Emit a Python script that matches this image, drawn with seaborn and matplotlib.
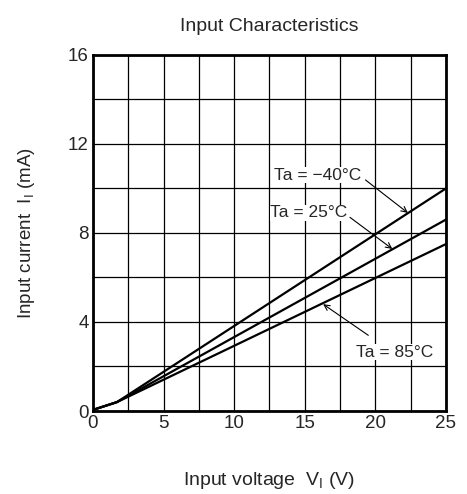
import pandas as pd
import matplotlib
matplotlib.use("Agg")
import matplotlib.pyplot as plt
import seaborn as sns

sns.set_style("white")
plt.rcParams['font.family'] = ['Liberation Sans', 'DejaVu Sans']
plt.rcParams['mathtext.fontset'] = 'custom'
plt.rcParams['mathtext.rm'] = 'Liberation Sans'

# data
voltage = [0, 1.7, 25]
current_m40 = [0.05, 0.4, 10.0]
current_25 = [0.05, 0.4, 8.6]
current_85 = [0.05, 0.4, 7.5]
temps = ['Ta = \u221240\u00b0C', 'Ta = 25\u00b0C', 'Ta = 85\u00b0C']

df = pd.DataFrame({
    'V': voltage * 3,
    'I': current_m40 + current_25 + current_85,
    'Ta': [temps[0]] * 3 + [temps[1]] * 3 + [temps[2]] * 3,
})

fig = plt.figure(figsize=(4.67, 4.94), dpi=100)
ax = fig.add_axes([0.199, 0.168, 0.756, 0.721])

sns.lineplot(data=df, x='V', y='I', hue='Ta', palette=['black'] * 3,
             linewidth=1.6, legend=False, ax=ax)

ax.set_xlim(0, 25)
ax.set_ylim(0, 16)
ax.set_xticks([0, 5, 10, 15, 20, 25])
ax.set_xticks([2.5, 7.5, 12.5, 17.5, 22.5], minor=True)
ax.set_yticks([0, 4, 8, 12, 16])
ax.set_yticks([2, 6, 10, 14], minor=True)
ax.grid(True, which='both', color='black', linewidth=0.9)
ax.tick_params(which='both', length=0, labelsize=13.5, pad=3)
for s in ax.spines.values():
    s.set_linewidth(2)
    s.set_color('black')

ax.set_title('Input Characteristics', fontsize=14, pad=17)
ax.set_xlabel('Input voltage  V$\\mathregular{_I}$ (V)', fontsize=14, labelpad=27)
ax.set_ylabel('Input current  I$\\mathregular{_I}$ (mA)', fontsize=13.5, labelpad=22)

# annotations: text position, arrow tail, arrow head
ann = [
    (temps[0], (15.9, 10.6), (19.3, 10.38), (22.3, 8.9)),
    (temps[1], (15.3, 8.9), (18.2, 8.7), (21.2, 7.28)),
    (temps[2], (21.35, 2.65), (19.5, 3.4), (16.3, 4.8)),
]
for label, txt, tail, head in ann:
    ax.text(txt[0], txt[1], label, ha='center', va='center', fontsize=12.5,
            bbox=dict(facecolor='white', edgecolor='none', pad=0.5))
    ax.annotate('', xy=head, xytext=tail,
                arrowprops=dict(arrowstyle='->', color='black', lw=0.8,
                                shrinkA=0, shrinkB=0))

fig.savefig('out.png', dpi=100)
